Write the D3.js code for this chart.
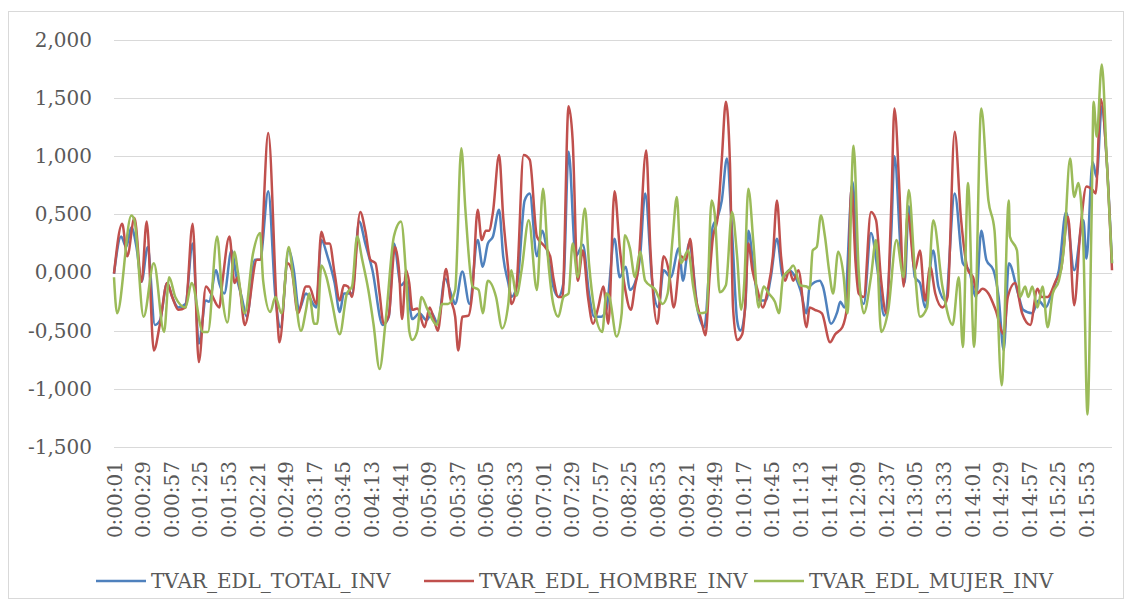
<!DOCTYPE html>
<html>
<head>
<meta charset="utf-8">
<script src="https://cdn.jsdelivr.net/npm/d3@7"></script>
<style>
  html, body { margin: 0; padding: 0; background: #fff; }
  svg { display: block; font-family: "DejaVu Serif", "Liberation Serif", serif; }
</style>
</head>
<body>
<script>
// series names
const seriesNames = ["TVAR_EDL_TOTAL_INV", "TVAR_EDL_HOMBRE_INV", "TVAR_EDL_MUJER_INV"];
const seriesColors = ["#4F81BD", "#C0504D", "#9BBB59"];

// y ticks
const yTickValues = [-1.5, -1, -0.5, 0, 0.5, 1, 1.5, 2];
const yTickLabels = ["-1,500", "-1,000", "-0,500", "0,000", "0,500", "1,000", "1,500", "2,000"];

// x tick labels (every 28 s)
const xTickLabels = ["0:00:01", "0:00:29", "0:00:57", "0:01:25", "0:01:53", "0:02:21", "0:02:49", "0:03:17",
  "0:03:45", "0:04:13", "0:04:41", "0:05:09", "0:05:37", "0:06:05", "0:06:33", "0:07:01", "0:07:29",
  "0:07:57", "0:08:25", "0:08:53", "0:09:21", "0:09:49", "0:10:17", "0:10:45", "0:11:13", "0:11:41",
  "0:12:09", "0:12:37", "0:13:05", "0:13:33", "0:14:01", "0:14:29", "0:14:57", "0:15:25", "0:15:53"];
const lastSecond = 978;

// [second, value]
const totalInv = [
  [1, -0.01], [8, 0.31], [13, 0.22], [18, 0.39], [23, 0.22], [28, -0.08], [34, 0.22], [41, -0.45], [46, -0.41],
  [53, -0.09], [58, -0.21], [64, -0.30], [71, -0.27], [78, 0.25], [84, -0.61], [91, -0.24], [94, -0.25],
  [101, 0.02], [104, -0.09], [109, -0.18], [116, 0.19], [121, -0.04], [126, -0.21], [131, -0.38], [139, 0.11],
  [144, 0.11], [152, 0.70], [159, -0.21], [164, -0.47], [172, 0.19], [177, 0.02], [182, -0.32], [189, -0.18],
  [192, -0.21], [199, -0.30], [204, 0.28], [210, 0.14], [217, -0.09], [222, -0.34], [226, -0.18], [234, -0.18],
  [241, 0.44], [247, 0.25], [254, 0.02], [264, -0.45], [270, -0.38], [275, 0.25], [282, -0.11], [287, -0.07],
  [293, -0.40], [300, -0.35], [307, -0.41], [312, -0.35], [318, -0.44], [325, -0.05], [332, -0.21], [335, -0.27],
  [342, 0.01], [349, -0.27], [357, 0.28], [362, 0.05], [367, 0.25], [372, 0.31], [378, 0.54], [382, 0.14],
  [387, -0.09], [390, -0.21], [396, -0.09], [403, 0.62], [408, 0.68], [415, 0.14], [420, 0.36], [425, 0.19],
  [431, -0.12], [436, -0.21], [441, -0.09], [446, 1.04], [453, 0.14], [460, 0.24], [466, -0.18], [471, -0.38],
  [478, -0.38], [483, -0.32], [491, 0.29], [496, -0.04], [502, 0.05], [506, -0.15], [511, -0.09], [516, 0.14],
  [521, 0.68], [528, -0.09], [534, -0.30], [539, 0.02], [546, -0.04], [554, 0.21], [558, -0.07], [564, 0.25],
  [573, -0.35], [579, -0.47], [584, 0.08], [587, 0.39], [592, 0.48], [596, 0.62], [601, 0.98], [606, 0.36],
  [611, -0.41], [614, -0.50], [619, -0.30], [622, 0.36], [627, 0.05], [632, -0.24], [639, -0.24], [644, -0.04],
  [650, 0.29], [656, -0.04], [662, 0.02], [666, -0.01], [673, -0.15], [679, -0.35], [682, -0.12], [692, -0.07],
  [695, -0.12], [703, -0.44], [709, -0.34], [712, -0.25], [716, -0.30], [724, 0.78], [729, 0.02], [735, -0.27],
  [742, 0.34], [749, -0.01], [755, -0.37], [762, 0.36], [765, 1.00], [772, 0.08], [775, -0.09], [779, 0.57],
  [785, -0.04], [790, -0.09], [795, -0.30], [803, 0.19], [808, -0.12], [815, -0.24], [824, 0.68], [832, 0.08],
  [838, 0.02], [845, -0.21], [850, 0.36], [855, 0.11], [862, 0.02], [867, -0.21], [872, -0.67], [877, 0.08],
  [886, -0.18], [891, -0.32], [900, -0.35], [906, -0.24], [913, -0.30], [920, -0.15], [926, 0.02], [933, 0.52],
  [941, 0.02], [950, 0.45], [953, 0.12], [959, 0.95], [963, 0.82], [968, 1.43], [973, 0.94], [978, 0.08]
];

const hombreInv = [
  [1, -0.01], [9, 0.42], [14, 0.14], [21, 0.47], [28, -0.08], [33, 0.44], [40, -0.67], [46, -0.44], [53, -0.09],
  [58, -0.21], [64, -0.32], [71, -0.30], [78, 0.42], [84, -0.77], [91, -0.12], [96, -0.18], [104, -0.30],
  [107, -0.09], [114, 0.31], [119, -0.09], [122, -0.04], [124, -0.12], [129, -0.45], [141, 0.11], [144, 0.11],
  [152, 1.20], [161, -0.41], [163, -0.60], [171, 0.08], [175, 0.02], [181, -0.35], [189, -0.12], [192, -0.12],
  [199, -0.27], [204, 0.35], [208, 0.25], [212, 0.25], [217, -0.01], [222, -0.24], [226, -0.11], [230, -0.12],
  [234, -0.21], [242, 0.52], [247, 0.36], [252, 0.11], [257, 0.08], [261, -0.18], [265, -0.44], [270, -0.37],
  [276, 0.22], [280, 0.02], [283, -0.40], [287, 0.02], [290, -0.09], [293, -0.32], [298, -0.31], [305, -0.47],
  [310, -0.30], [315, -0.43], [318, -0.50], [322, -0.24], [326, 0.03], [330, -0.21], [335, -0.38], [338, -0.67],
  [342, -0.38], [348, -0.37], [352, -0.15], [357, 0.54], [361, 0.28], [365, 0.36], [368, 0.36], [372, 0.52],
  [378, 1.01], [382, 0.48], [387, 0.02], [390, -0.27], [395, -0.12], [402, 1.01], [408, 0.97], [415, 0.31],
  [420, 0.25], [423, 0.22], [428, 0.14], [431, -0.04], [436, -0.21], [440, -0.21], [446, 1.43], [450, 1.14],
  [455, -0.07], [460, 0.19], [465, -0.21], [470, -0.44], [475, -0.30], [480, -0.12], [485, -0.44], [491, 0.70],
  [496, 0.22], [501, -0.12], [507, -0.32], [511, -0.12], [514, 0.02], [522, 1.05], [526, 0.22], [533, -0.44],
  [539, 0.14], [544, 0.02], [549, -0.30], [556, 0.14], [561, 0.11], [565, 0.29], [570, -0.18], [576, -0.41],
  [580, -0.54], [584, -0.04], [587, 0.28], [592, 0.48], [596, 0.97], [600, 1.47], [604, 0.94], [607, -0.30],
  [611, -0.58], [616, -0.53], [619, -0.27], [622, 0.25], [626, 0.02], [631, -0.15], [636, -0.30], [641, -0.15],
  [646, 0.14], [650, 0.62], [654, 0.14], [658, -0.07], [662, 0.02], [666, -0.07], [671, 0.02], [679, -0.47],
  [682, -0.30], [687, -0.32], [694, -0.35], [702, -0.60], [707, -0.53], [714, -0.47], [719, -0.27], [723, 0.74],
  [727, 0.08], [730, -0.18], [735, -0.21], [742, 0.52], [747, 0.45], [752, -0.07], [757, -0.35], [762, 0.59],
  [765, 1.41], [770, 0.68], [774, -0.12], [778, 0.51], [785, 0.02], [790, 0.19], [795, -0.24], [800, 0.05],
  [805, -0.18], [812, -0.30], [817, -0.21], [824, 1.21], [830, 0.48], [837, 0.02], [842, -0.04], [846, -0.18],
  [851, -0.14], [857, -0.18], [864, -0.32], [872, -0.53], [876, -0.21], [883, -0.09], [890, -0.35], [898, -0.45],
  [905, -0.14], [909, -0.21], [915, -0.21], [923, -0.07], [928, 0.02], [935, 0.48], [941, -0.28], [947, 0.36],
  [953, 0.74], [959, 0.71], [962, 0.68], [967, 1.49], [973, 0.94], [978, 0.02]
];

const mujerInv = [
  [1, -0.04], [4, -0.35], [18, 0.49], [21, 0.45], [30, -0.38], [40, 0.08], [50, -0.51], [55, -0.04], [61, -0.21],
  [71, -0.30], [77, -0.09], [88, -0.51], [93, -0.51], [102, 0.31], [107, -0.21], [112, -0.43], [119, 0.18],
  [122, 0.02], [129, -0.35], [137, 0.16], [144, 0.34], [147, -0.07], [154, -0.34], [159, -0.21], [165, -0.35],
  [172, 0.22], [177, -0.09], [184, -0.50], [189, -0.32], [192, -0.18], [197, -0.44], [200, -0.44], [204, 0.06],
  [209, -0.04], [214, -0.24], [222, -0.53], [229, -0.18], [234, -0.12], [239, 0.31], [244, 0.11], [250, -0.15],
  [255, -0.44], [261, -0.83], [267, -0.41], [275, 0.31], [282, 0.44], [287, -0.04], [290, -0.50], [293, -0.58],
  [298, -0.50], [302, -0.21], [308, -0.32], [317, -0.45], [322, -0.27], [328, -0.27], [335, -0.15], [341, 1.07],
  [345, 0.54], [352, -0.12], [358, -0.15], [362, -0.35], [367, -0.07], [375, -0.21], [381, -0.48], [387, -0.27],
  [390, 0.02], [395, -0.20], [400, 0.02], [407, 0.45], [415, -0.15], [421, 0.72], [426, 0.11], [431, -0.27],
  [436, -0.38], [441, -0.21], [446, -0.18], [450, 0.25], [455, -0.04], [462, 0.55], [466, 0.08], [471, -0.30],
  [479, -0.51], [483, -0.18], [486, -0.21], [493, -0.55], [498, -0.35], [501, 0.32], [506, 0.21], [511, -0.04],
  [516, 0.18], [521, -0.07], [531, -0.15], [538, -0.27], [543, -0.18], [548, 0.31], [552, 0.65], [556, 0.08],
  [563, 0.19], [568, -0.12], [574, -0.35], [581, -0.34], [586, 0.62], [589, 0.51], [594, -0.17], [600, -0.11],
  [606, 0.52], [611, 0.14], [615, -0.32], [618, -0.09], [622, 0.72], [627, 0.25], [632, -0.30], [637, -0.12],
  [642, -0.18], [648, -0.25], [652, -0.35], [656, -0.04], [662, 0.02], [666, 0.06], [673, -0.11], [679, -0.12],
  [682, -0.14], [685, 0.19], [689, 0.22], [693, 0.49], [697, 0.31], [701, 0.02], [705, -0.18], [710, 0.18],
  [715, -0.01], [719, -0.35], [725, 1.09], [730, 0.02], [735, -0.35], [742, -0.04], [747, 0.28], [752, -0.51],
  [759, -0.32], [767, 0.28], [774, -0.04], [779, 0.71], [785, 0.02], [790, -0.38], [797, -0.30], [803, 0.45],
  [812, -0.12], [822, -0.45], [828, -0.04], [832, -0.64], [837, 0.77], [843, -0.64], [850, 1.41], [857, 0.62],
  [863, 0.36], [870, -0.97], [877, 0.62], [878, 0.31], [885, 0.19], [888, -0.21], [893, -0.12], [896, -0.21],
  [900, -0.12], [905, -0.30], [910, -0.12], [915, -0.47], [920, -0.18], [926, -0.07], [931, 0.22], [937, 0.98],
  [941, 0.65], [945, 0.77], [950, 0.22], [954, -1.22], [958, 0.48], [960, 1.47], [963, 1.17], [968, 1.79],
  [973, 0.94], [978, 0.08]
];

const allSeries = [totalInv, hombreInv, mujerInv];

const W = 1131, H = 610;
const plot = { left: 114, right: 1112, top: 40, bottom: 447 };

const svg = d3.select("body").append("svg")
  .attr("width", W)
  .attr("height", H);

// chart frame
svg.append("rect")
  .attr("x", 8.5).attr("y", 11.5)
  .attr("width", 1115).attr("height", 587)
  .attr("fill", "#fff")
  .attr("stroke", "#d9d9d9")
  .attr("stroke-width", 1);

const toSec = s => { const p = s.split(":").map(Number); return p[0] * 3600 + p[1] * 60 + p[2]; };

const x = d3.scaleLinear().domain([1, lastSecond]).range([plot.left, plot.right]);
const y = d3.scaleLinear().domain([-1.5, 2]).range([plot.bottom, plot.top]);

// gridlines
svg.append("g")
  .selectAll("line")
  .data(yTickValues)
  .join("line")
  .attr("x1", plot.left).attr("x2", plot.right)
  .attr("y1", d => Math.round(y(d)) + 0.5).attr("y2", d => Math.round(y(d)) + 0.5)
  .attr("stroke", "#d9d9d9")
  .attr("stroke-width", 1);

// y axis labels
const yAxis = d3.axisLeft(y)
  .tickValues(yTickValues)
  .tickFormat((d, i) => yTickLabels[i])
  .tickSize(0)
  .tickPadding(0);
const gy = svg.append("g")
  .attr("transform", "translate(92,0)")
  .call(yAxis);
gy.select(".domain").remove();
gy.selectAll("text")
  .attr("font-family", "DejaVu Serif")
  .attr("font-size", 20)
  .attr("fill", "#595959");

// x axis labels
const xAxis = d3.axisBottom(x)
  .tickValues(xTickLabels.map(toSec))
  .tickFormat((d, i) => xTickLabels[i])
  .tickSize(0);
const gx = svg.append("g")
  .attr("transform", "translate(0," + plot.bottom + ")")
  .call(xAxis);
gx.select(".domain").remove();
gx.selectAll("text")
  .attr("font-family", "DejaVu Serif")
  .attr("font-size", 20)
  .attr("fill", "#595959")
  .attr("text-anchor", "end")
  .attr("transform", "rotate(-90)")
  .attr("x", -14)
  .attr("y", 0)
  .attr("dy", "0.35em");

// lines
const line = d3.line()
  .x(d => x(d[0]))
  .y(d => y(d[1]))
  .curve(d3.curveMonotoneX);

svg.append("g")
  .selectAll("path")
  .data(allSeries)
  .join("path")
  .attr("d", line)
  .attr("fill", "none")
  .attr("stroke", (d, i) => seriesColors[i])
  .attr("stroke-width", 2.5)
  .attr("stroke-linejoin", "round");

// legend
const legendX = [96, 424, 754];
const legend = svg.append("g")
  .selectAll("g")
  .data(seriesNames)
  .join("g")
  .attr("transform", (d, i) => "translate(" + legendX[i] + ",581)");
legend.append("line")
  .attr("x1", 0).attr("x2", 50)
  .attr("stroke", (d, i) => seriesColors[i])
  .attr("stroke-width", 2.5);
legend.append("text")
  .attr("x", 55)
  .attr("dy", "0.35em")
  .attr("font-size", 20)
  .attr("fill", "#595959")
  .text(d => d);
</script>
</body>
</html>
